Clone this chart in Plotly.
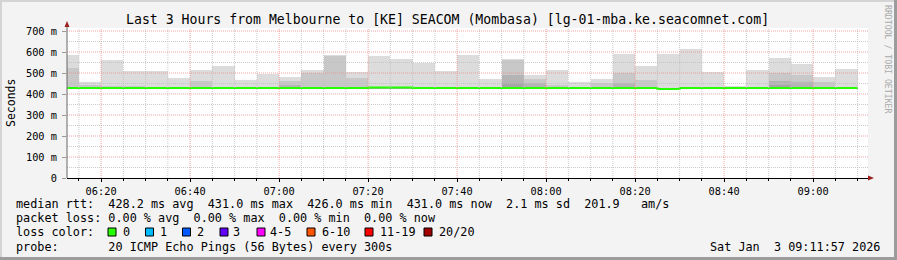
import plotly.graph_objects as go
import datetime as _dt

# ---------------- data ----------------
day = "2026-01-03 "
bar_start = ["06:10", "06:15", "06:20", "06:25", "06:30", "06:35", "06:40", "06:45", "06:50",
             "06:55", "07:00", "07:05", "07:10", "07:15", "07:20", "07:25", "07:30", "07:35",
             "07:40", "07:45", "07:50", "07:55", "08:00", "08:05", "08:10", "08:15", "08:20",
             "08:25", "08:30", "08:35", "08:40", "08:45", "08:50", "08:55", "09:00", "09:05"]
bar_end_last = "09:10"

# smoke (ms): outer range top, and inner (darker) percentile tops
smoke_min = [426, 426, 426, 426, 426, 426, 426, 426, 426, 426, 426, 426,
             426, 426, 428, 428, 426, 426, 426, 426, 426, 426, 426, 426,
             426, 426, 426, 422, 426, 426, 426, 426, 426, 426, 426, 426]
smoke_max = [586, 457, 562, 509, 509, 476, 514, 533, 467, 496, 481, 514,
             588, 506, 581, 567, 550, 510, 587, 471, 567, 490, 514, 457,
             471, 590, 533, 590, 614, 505, 440, 514, 571, 543, 481, 519]
smoke_p2 = [524, 445, 436, 439, 432, 432, 462, 432, 432, 432, 462, 500,
            582, 477, 435, 434, 432, 432, 432, 432, 562, 471, 443, 432,
            452, 500, 467, 428, 432, 432, 432, 432, 500, 490, 457, 432]
smoke_p3 = [430, 430, 430, 430, 430, 430, 430, 430, 430, 430, 443, 430,
            430, 430, 432, 432, 430, 430, 430, 430, 490, 452, 430, 430,
            430, 452, 430, 426, 430, 430, 430, 430, 462, 457, 430, 430]
smoke_p4 = [429, 429, 429, 429, 429, 429, 429, 429, 429, 429, 429, 429,
            429, 429, 431, 431, 429, 429, 429, 429, 452, 429, 429, 429,
            429, 429, 429, 425, 429, 429, 429, 429, 443, 429, 429, 429]
median_rtt = [428, 428, 428, 428, 428, 428, 428, 428, 428, 428, 428, 428,
              428, 428, 431, 431, 428, 428, 428, 428, 428, 428, 428, 428,
              428, 428, 428, 424, 428, 428, 428, 428, 428, 428, 428, 428]

y_tick_vals = [0, 100, 200, 300, 400, 500, 600, 700]
y_tick_text = ["0", "100 m", "200 m", "300 m", "400 m", "500 m", "600 m", "700 m"]
x_tick_text = ["06:20", "06:40", "07:00", "07:20", "07:40", "08:00", "08:20", "08:40", "09:00"]

loss_labels = ["0", "1", "2", "3", "4-5", "6-10", "11-19", "20/20"]
loss_colors = ["#26ff00", "#00b8ff", "#0059ff", "#5e00ff", "#ff00ff", "#ff5500", "#ff0000", "#a10000"]

title_text = "Last 3 Hours from Melbourne to [KE] SEACOM (Mombasa) [lg-01-mba.ke.seacomnet.com]"
legend_lines = [
    "median rtt:  428.2 ms avg  431.0 ms max  426.0 ms min  431.0 ms now  2.1 ms sd  201.9   am/s",
    "packet loss: 0.00 % avg  0.00 % max  0.00 % min  0.00 % now",
    "loss color:",
    "probe:       20 ICMP Echo Pings (56 Bytes) every 300s",
]
stamp = "Sat Jan  3 09:11:57 2026"

# ---------------- geometry helpers ----------------
W, H = 897, 260
L, R, T, B = 67, 868, 28, 178
PW, PH = R - L, B - T


def px(xp):
    return (xp - L) / PW


def py(yp):
    return (B - yp) / PH


FONT = "DejaVu Sans Mono"

bar_x = [day + s for s in bar_start]
bar_centers = []
for s in bar_x:
    t = _dt.datetime.strptime(s, "%Y-%m-%d %H:%M") + _dt.timedelta(minutes=2, seconds=30)
    bar_centers.append(t.strftime("%Y-%m-%d %H:%M:%S"))

fig = go.Figure()

layers = [(smoke_max, "#dcdcdc"), (smoke_p2, "#c8c8c8"), (smoke_p3, "#b4b4b4"), (smoke_p4, "#a6a6a6")]
for tops, col in layers:
    fig.add_trace(go.Bar(
        x=bar_centers,
        y=[t - b for t, b in zip(tops, smoke_min)],
        base=smoke_min,
        width=300000,
        marker=dict(color=col, line=dict(width=0)),
        hoverinfo="skip",
    ))

fig.add_trace(go.Scatter(
    x=bar_x + [day + bar_end_last],
    y=median_rtt + [median_rtt[-1]],
    mode="lines",
    line=dict(color="#26ff00", width=2, shape="hv"),
    hoverinfo="skip",
))

shapes = []
# grid lines drawn on top of the smoke (as rrdtool does)
t = _dt.datetime(2026, 1, 3, 6, 15)
end = _dt.datetime(2026, 1, 3, 9, 10)
while t <= end:
    major = (t.minute % 20 == 0)
    shapes.append(dict(type="line", xref="x", yref="paper",
                       x0=t.strftime("%Y-%m-%d %H:%M"), x1=t.strftime("%Y-%m-%d %H:%M"),
                       y0=0, y1=1, layer="above",
                       line=dict(color="rgba(235,140,140,0.8)" if major else "rgba(190,190,190,0.8)",
                                 width=1, dash="1px,1px")))
    t += _dt.timedelta(minutes=5)
for v in range(50, 701, 50):
    major = (v % 100 == 0)
    shapes.append(dict(type="line", xref="paper", yref="y", x0=0, x1=1, y0=v, y1=v,
                       layer="above",
                       line=dict(color="rgba(235,140,140,0.8)" if major else "rgba(190,190,190,0.8)",
                                 width=1, dash="1px,1px")))

# axis arrows
arrow_col = "#9b2020"
shapes.append(dict(type="line", xref="paper", yref="paper", x0=px(67), x1=px(67), y0=py(178), y1=py(24),
                   line=dict(color="#666666", width=1)))
shapes.append(dict(type="path", xref="paper", yref="paper",
                   path=f"M {px(64.5)} {py(27)} L {px(69.5)} {py(27)} L {px(67)} {py(21)} Z",
                   fillcolor=arrow_col, line=dict(width=0)))
shapes.append(dict(type="path", xref="paper", yref="paper",
                   path=f"M {px(868)} {py(175.5)} L {px(868)} {py(180.5)} L {px(874)} {py(178)} Z",
                   fillcolor=arrow_col, line=dict(width=0)))

# 3D frame
shapes.append(dict(type="rect", xref="paper", yref="paper", x0=px(0), x1=px(2), y0=py(260), y1=py(0),
                   fillcolor="#d4d4d4", line=dict(width=0)))
shapes.append(dict(type="rect", xref="paper", yref="paper", x0=px(0), x1=px(897), y0=py(2), y1=py(0),
                   fillcolor="#d4d4d4", line=dict(width=0)))
shapes.append(dict(type="rect", xref="paper", yref="paper", x0=px(894), x1=px(897), y0=py(260), y1=py(0),
                   fillcolor="#9c9c9c", line=dict(width=0)))
shapes.append(dict(type="rect", xref="paper", yref="paper", x0=px(0), x1=px(897), y0=py(260), y1=py(257),
                   fillcolor="#9c9c9c", line=dict(width=0)))

# loss colour boxes
box_left = [108, 145.5, 182.5, 220, 257, 307, 365, 424]
label_left = [123, 160, 196.5, 233, 270, 321.5, 380, 439]
for bl, c in zip(box_left, loss_colors):
    shapes.append(dict(type="rect", xref="paper", yref="paper",
                       x0=px(bl), x1=px(bl + 8), y0=py(236), y1=py(228),
                       fillcolor=c, line=dict(color="#000000", width=1)))

annotations = []


def note(text, x, y, size, xanchor="left", angle=0, color="#000000"):
    annotations.append(dict(text=text.replace(" ", "\u00a0"), xref="paper", yref="paper",
                            x=px(x), y=py(y), xanchor=xanchor, yanchor="middle",
                            showarrow=False, textangle=angle, borderpad=0, borderwidth=0,
                            font=dict(family=FONT, size=size, color=color)))


note(title_text, 447, 19.5, 13.2, xanchor="center")
note("Seconds", 11, 103, 11.5, xanchor="center", angle=-90)
note("RRDTOOL / TOBI OETIKER", 888, 59, 8.2, xanchor="center", angle=90, color="#aaaaaa")
line_y = [204, 218.3, 232, 246.7]
for txt, yy in zip(legend_lines, line_y):
    note(txt, 16, yy, 11.8)
for lab, lx in zip(loss_labels, label_left):
    note(lab, lx, 232, 11.8)
note(stamp, 880.5, 246.7, 11.8, xanchor="right")

fig.update_layout(
    width=W, height=H,
    margin=dict(l=L, r=W - R, t=T, b=H - B, pad=0),
    paper_bgcolor="#f3f3f3",
    plot_bgcolor="#ffffff",
    barmode="overlay",
    bargap=0,
    showlegend=False,
    shapes=shapes,
    annotations=annotations,
    xaxis=dict(
        type="date",
        range=[day + "06:12:20", day + "09:12:20"],
        tickvals=[day + s for s in x_tick_text],
        ticktext=x_tick_text,
        ticks="outside", ticklen=3, tickcolor="#000000", tickwidth=1,
        showgrid=False, zeroline=False,
        showline=True, linecolor="#000000", linewidth=1,
        tickfont=dict(family=FONT, size=10.3, color="#000000"),
        ticklabelstandoff=1,
        minor=dict(dtick=300000, tick0=day + "06:15", ticks="outside", ticklen=2, tickcolor="#000000"),
        fixedrange=True,
    ),
    yaxis=dict(
        range=[0, 714.3],
        tickvals=y_tick_vals,
        ticktext=y_tick_text,
        ticks="outside", ticklen=4, tickcolor="#999999", tickwidth=1,
        showgrid=False, zeroline=False,
        showline=False,
        tickfont=dict(family=FONT, size=10.3, color="#000000"),
        ticklabelstandoff=3,
        fixedrange=True,
    ),
)

fig.write_html("out.html", config={"displayModeBar": False})
